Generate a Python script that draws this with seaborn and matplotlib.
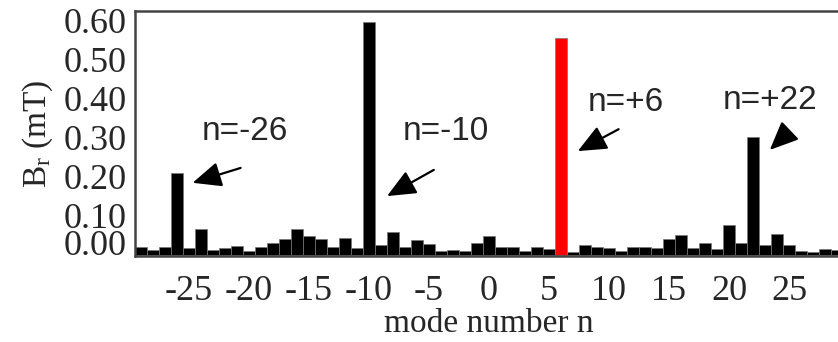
import matplotlib
matplotlib.use("Agg")
import matplotlib.pyplot as plt
import seaborn as sns
import pandas as pd

# ---- data ----
mode_n = [-29, -28, -27, -26, -25, -24, -23, -22, -21, -20,
          -19, -18, -17, -16, -15, -14, -13, -12, -11, -10,
          -9, -8, -7, -6, -5, -4, -3, -2, -1, 0,
          1, 2, 3, 4, 5, 6, 7, 8, 9, 10,
          11, 12, 13, 14, 15, 16, 17, 18, 19, 20,
          21, 22, 23, 24, 25, 26, 27, 28, 29]
br_mT = [0.021, 0.013, 0.020, 0.210, 0.017, 0.065, 0.013, 0.017, 0.023, 0.011,
         0.020, 0.030, 0.041, 0.066, 0.047, 0.041, 0.020, 0.043, 0.017, 0.595,
         0.026, 0.058, 0.020, 0.037, 0.028, 0.011, 0.013, 0.011, 0.030, 0.049,
         0.019, 0.019, 0.011, 0.021, 0.015, 0.555, 0.006, 0.024, 0.019, 0.017,
         0.010, 0.019, 0.021, 0.017, 0.040, 0.050, 0.017, 0.030, 0.015, 0.077,
         0.030, 0.300, 0.026, 0.054, 0.024, 0.011, 0.007, 0.015, 0.013]
highlight_n = 6
x_ticks = [-25, -20, -15, -10, -5, 0, 5, 10, 15, 20, 25]
y_ticks = [0.0, 0.1, 0.2, 0.3, 0.4, 0.5, 0.6]
y_tick_labels = ["0.00", "0.10", "0.20", "0.30", "0.40", "0.50", "0.60"]
annotations = [  # label, text position, arrow tail, arrow head (data coords)
    ("n=-26", (-20.3, 0.314), (-20.7, 0.222), (-24.7, 0.184)),
    ("n=-10", (-3.6, 0.314), (-4.6, 0.217), (-8.5, 0.150)),
    ("n=+6", (11.4, 0.388), (10.8, 0.321), (7.4, 0.265)),
    ("n=+22", (23.4, 0.395), (24.8, 0.309), (23.4, 0.268)),
]

df = pd.DataFrame({"n": mode_n, "Br": br_mT})
df["hl"] = ["red" if v == highlight_n else "black" for v in mode_n]

sns.set_style("white")
plt.rcParams["font.family"] = ["Liberation Serif", "DejaVu Serif"]
plt.rcParams["mathtext.fontset"] = "custom"
plt.rcParams["mathtext.rm"] = "Liberation Serif"
plt.rcParams["mathtext.it"] = "Liberation Serif:italic"

fig = plt.figure(figsize=(8.38, 3.42), dpi=100)
ax = fig.add_axes([135 / 838, 1 - 256 / 342, (843 - 135) / 838, (256 - 11) / 342])

sns.barplot(data=df, x="n", y="Br", hue="hl",
            palette={"black": "#000000", "red": "#ff0000"}, saturation=1,
            native_scale=True, width=1.0, dodge=False, legend=False,
            edgecolor="#777777", linewidth=0.5, ax=ax)

ax.set_xlim(-29.5, 29.5)
ax.set_ylim(-0.003, 0.623)
ax.set_xticks(x_ticks)
ax.set_xticklabels([str(t) for t in x_ticks])
ax.set_yticks(y_ticks)
ax.set_yticklabels(y_tick_labels)

for s in ["left", "top", "bottom", "right"]:
    ax.spines[s].set_visible(True)
    ax.spines[s].set_color("#444444")
    ax.spines[s].set_linewidth(1.8)

ax.tick_params(axis="y", direction="in", length=10, width=1.4, color="#444444",
               labelsize=26, pad=6)
ax.tick_params(axis="x", direction="in", length=0, labelsize=26, pad=14)

# lift the 0.00 label like in the original
for lab in ax.get_yticklabels():
    if lab.get_text() == "0.00":
        lab.set_verticalalignment("baseline")

ax.set_xlabel("mode number n", fontsize=24, labelpad=0)
ax.set_ylabel(r"B$_{\mathrm{r}}$ (mT)", fontsize=24, labelpad=6)

for label, tpos, tail, head in annotations:
    ax.text(tpos[0], tpos[1], label, ha="center", va="center",
            fontsize=24, family=["Liberation Sans", "DejaVu Sans"])
    ax.annotate("", xy=head, xytext=tail,
                arrowprops=dict(arrowstyle="-|>,head_length=0.8,head_width=0.35",
                                color="black", lw=1.6, mutation_scale=22,
                                shrinkA=0, shrinkB=0))

fig.savefig("out.png", dpi=100)
